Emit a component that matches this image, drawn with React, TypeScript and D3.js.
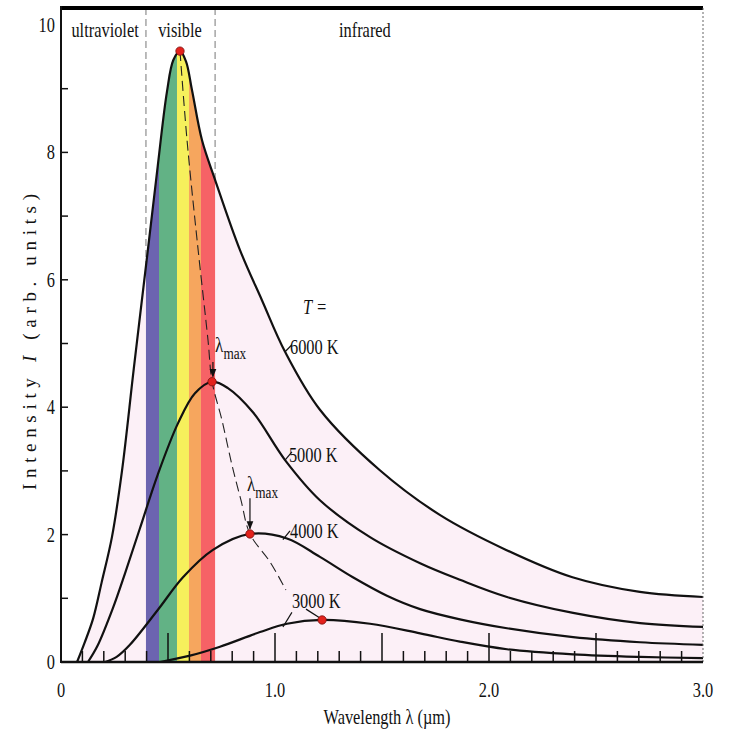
import React from "react";
import * as d3 from "d3";

// Spectral intensity curves, [wavelength µm, intensity arb. units]
const T6000: [number, number][] = [
  [0.075, 0], [0.11, 0.3], [0.15, 0.68], [0.19, 1.25], [0.238, 1.96], [0.285, 3.0],
  [0.34, 4.6], [0.4, 6.3], [0.449, 7.7], [0.495, 8.95], [0.525, 9.45], [0.556, 9.59],
  [0.584, 9.43], [0.612, 8.98], [0.659, 8.19], [0.72, 7.57], [0.836, 6.47],
  [0.939, 5.68], [1.047, 4.87], [1.21, 3.96], [1.49, 3.01], [1.77, 2.31],
  [2.08, 1.76], [2.39, 1.33], [2.705, 1.1], [3.0, 1.02],
];
const T5000: [number, number][] = [
  [0.126, 0], [0.17, 0.25], [0.243, 0.85], [0.3, 1.4], [0.369, 2.1], [0.453, 2.95],
  [0.547, 3.75], [0.626, 4.22], [0.706, 4.4], [0.78, 4.3], [0.897, 3.92], [1.047, 3.17],
  [1.21, 2.54], [1.444, 1.96], [1.678, 1.55], [1.864, 1.29], [2.084, 1.02], [2.393, 0.77],
  [2.706, 0.61], [3.0, 0.55],
];
const T4000: [number, number][] = [
  [0.206, 0], [0.26, 0.08], [0.322, 0.27], [0.453, 0.82], [0.57, 1.33], [0.71, 1.76],
  [0.883, 2.01], [1.056, 1.94], [1.21, 1.65], [1.364, 1.33], [1.523, 1.04], [1.678, 0.83],
  [1.864, 0.67], [2.084, 0.53], [2.393, 0.39], [2.706, 0.31], [3.0, 0.27],
];
const T3000: [number, number][] = [
  [0.463, 0], [0.603, 0.1], [0.743, 0.24], [0.93, 0.47], [1.056, 0.6], [1.22, 0.66],
  [1.444, 0.6], [1.678, 0.45], [1.864, 0.32], [2.084, 0.2], [2.393, 0.12], [2.706, 0.08],
  [3.0, 0.06],
];
const CURVES = [T6000, T5000, T4000, T3000];

// Peak positions (λmax) of each curve
const PEAKS: [number, number][] = [
  [0.556, 9.59], [0.706, 4.4], [0.883, 2.01], [1.22, 0.66],
];
// Locus of the maxima (dashed)
const LOCUS: [number, number][] = [
  [0.556, 9.59], [0.589, 8.19], [0.636, 6.62], [0.687, 5.05], [0.706, 4.4], [0.752, 3.8],
  [0.799, 3.09], [0.841, 2.54], [0.883, 2.01], [0.977, 1.57], [1.051, 1.13],
];

// Visible spectrum band edges (µm) and colours
const BAND_EDGES = [0.397, 0.458, 0.542, 0.598, 0.654, 0.72];
const BAND_COLORS = ["#6c64b0", "#62b285", "#f6f05c", "#f6a65e", "#f66266"];

const X_TICK_VALUES = [0, 1, 2, 3];
const X_TICK_LABELS = ["0", "1.0", "2.0", "3.0"];
const Y_TICK_VALUES = [0, 2, 4, 6, 8, 10];
const Y_TICK_LABELS = ["0", "2", "4", "6", "8", "10"];

const W = 731;
const H = 737;
const FONT = "'Liberation Serif', 'Times New Roman', serif";
const SX = 0.78;

const x = d3.scaleLinear().domain([0, 3]).range([61, 703]);
const y = d3.scaleLinear().domain([0, 10]).range([662, 25]);

function Txt(props: {
  x: number; y: number; size?: number; anchor?: string; italic?: boolean; children: React.ReactNode;
}) {
  const { size = 21, anchor = "start", italic = false } = props;
  return (
    <text
      transform={`translate(${props.x},${props.y}) scale(${SX},1)`}
      textAnchor={anchor}
      fontSize={size}
      fontFamily={FONT}
      fontStyle={italic ? "italic" : "normal"}
      fill="#111"
    >
      {props.children}
    </text>
  );
}

function LambdaMax(props: { px: number; py: number }) {
  return (
    <text transform={`translate(${props.px},${props.py}) scale(${SX},1)`} fontFamily={FONT} fill="#111">
      <tspan fontSize={22}>λ</tspan>
      <tspan fontSize={17} dy={7}>max</tspan>
    </text>
  );
}

export default function App() {
  const curve = d3.curveCatmullRom.alpha(0.5);
  const line = d3
    .line<[number, number]>()
    .x((d) => x(d[0]))
    .y((d) => y(d[1]))
    .curve(curve);
  const area = d3
    .area<[number, number]>()
    .x((d) => x(d[0]))
    .y0(y(0))
    .y1((d) => y(d[1]))
    .curve(curve);

  const minorX = d3.range(1, 30).map((i) => i / 10);
  const minorY = d3.range(1, 10);

  const leaders: [number, number, number, number][] = [
    [1.047, 4.87, 1.079, 4.98],
    [1.047, 3.17, 1.079, 3.3],
    [1.037, 1.92, 1.07, 2.06],
    [1.037, 0.55, 1.079, 0.78],
    [1.145, 0.83, 1.21, 0.69],
  ];

  return (
    <svg
      width={W}
      height={H}
      viewBox={`0 0 ${W} ${H}`}
      style={{ position: "absolute", left: 0, top: 0, background: "#fff" }}
    >
      <defs>
        <clipPath id="under6000">
          <path d={area(T6000) || ""} />
        </clipPath>
        <marker id="arrow" viewBox="0 0 10 10" refX="9" refY="5" markerWidth="7" markerHeight="7" orient="auto">
          <path d="M0,1 L10,5 L0,9 Z" fill="#111" />
        </marker>
      </defs>

      {/* region separators */}
      {[BAND_EDGES[0], BAND_EDGES[BAND_EDGES.length - 1]].map((v, i) => (
        <line key={i} x1={x(v)} x2={x(v)} y1={8} y2={y(0)} stroke="#777" strokeWidth={1} strokeDasharray="7,4" />
      ))}

      {/* area under the hottest curve */}
      <path d={area(T6000) || ""} fill="#fcf0f7" />
      <g clipPath="url(#under6000)">
        {BAND_COLORS.map((c, i) => (
          <rect
            key={i}
            x={x(BAND_EDGES[i])}
            width={x(BAND_EDGES[i + 1]) - x(BAND_EDGES[i])}
            y={0}
            height={y(0)}
            fill={c}
          />
        ))}
      </g>

      {/* x-axis ticks */}
      {minorX.map((v) => {
        const major = Math.abs(v * 2 - Math.round(v * 2)) < 1e-6;
        return (
          <line key={v} x1={x(v)} x2={x(v)} y1={y(0)} y2={y(0) - (major ? 29 : 11)} stroke="#111" strokeWidth={1.5} />
        );
      })}
      {/* y-axis ticks */}
      {minorY.map((v) => (
        <line key={v} x1={x(0)} x2={x(0) + 7} y1={y(v)} y2={y(v)} stroke="#111" strokeWidth={1.5} />
      ))}

      {/* curves */}
      {CURVES.map((c, i) => (
        <path key={i} d={line(c) || ""} fill="none" stroke="#111" strokeWidth={2.2} />
      ))}

      {/* locus of maxima */}
      <path d={line(LOCUS) || ""} fill="none" stroke="#222" strokeWidth={1.1} strokeDasharray="10,5" />

      {/* leader lines */}
      {leaders.map((l, i) => (
        <line key={i} x1={x(l[0])} y1={y(l[1])} x2={x(l[2])} y2={y(l[3])} stroke="#111" strokeWidth={1.2} />
      ))}

      {/* λmax arrows */}
      <line x1={x(0.71)} x2={x(0.71)} y1={y(4.71)} y2={y(4.48)} stroke="#111" strokeWidth={1.2} markerEnd="url(#arrow)" />
      <line x1={x(0.883)} x2={x(0.883)} y1={y(2.57)} y2={y(2.09)} stroke="#111" strokeWidth={1.2} markerEnd="url(#arrow)" />

      {/* peak markers */}
      {PEAKS.map((p, i) => (
        <circle key={i} cx={x(p[0])} cy={y(p[1])} r={4.2} fill="#e3221c" stroke="#7a1010" strokeWidth={0.8} />
      ))}

      {/* frame */}
      <line x1={x(0)} x2={x(3)} y1={8} y2={8} stroke="#000" strokeWidth={4} />
      <line x1={x(3)} x2={x(3)} y1={8} y2={y(0)} stroke="#666" strokeWidth={1} strokeDasharray="2,2" />
      <line x1={x(0)} x2={x(0)} y1={6} y2={y(0) + 1} stroke="#111" strokeWidth={2} />
      <line x1={x(0)} x2={x(3)} y1={y(0)} y2={y(0)} stroke="#111" strokeWidth={2.5} />

      {/* tick labels */}
      {X_TICK_VALUES.map((v, i) => (
        <Txt key={v} x={x(v)} y={697} anchor="middle">{X_TICK_LABELS[i]}</Txt>
      ))}
      {Y_TICK_VALUES.map((v, i) => (
        <Txt key={v} x={55} y={y(v) + 7} anchor="end">{Y_TICK_LABELS[i]}</Txt>
      ))}

      {/* axis titles */}
      <Txt x={387} y={724} anchor="middle">Wavelength λ (µm)</Txt>
      <text
        transform={`translate(36,${342}) rotate(-90)`}
        textAnchor="middle"
        fontSize={19}
        fontFamily={FONT}
        fill="#111"
        textLength={296}
        lengthAdjust="spacing"
      >
        Intensity <tspan fontStyle="italic">I</tspan> (arb. units)
      </text>

      {/* region labels */}
      <Txt x={x(0.206)} y={y(9.81)} anchor="middle">ultraviolet</Txt>
      <Txt x={x(0.556)} y={y(9.81)} anchor="middle">visible</Txt>
      <Txt x={x(1.42)} y={y(9.81)} anchor="middle">infrared</Txt>

      {/* temperature labels */}
      <Txt x={x(1.131)} y={y(5.46)} italic>T =</Txt>
      <Txt x={x(1.07)} y={y(4.84)}>6000 K</Txt>
      <Txt x={x(1.065)} y={y(3.14)}>5000 K</Txt>
      <Txt x={x(1.07)} y={y(1.95)}>4000 K</Txt>
      <Txt x={x(1.079)} y={y(0.85)}>3000 K</Txt>

      {/* λmax labels */}
      <LambdaMax px={x(0.72)} py={y(4.87)} />
      <LambdaMax px={x(0.869)} py={y(2.68)} />
    </svg>
  );
}
